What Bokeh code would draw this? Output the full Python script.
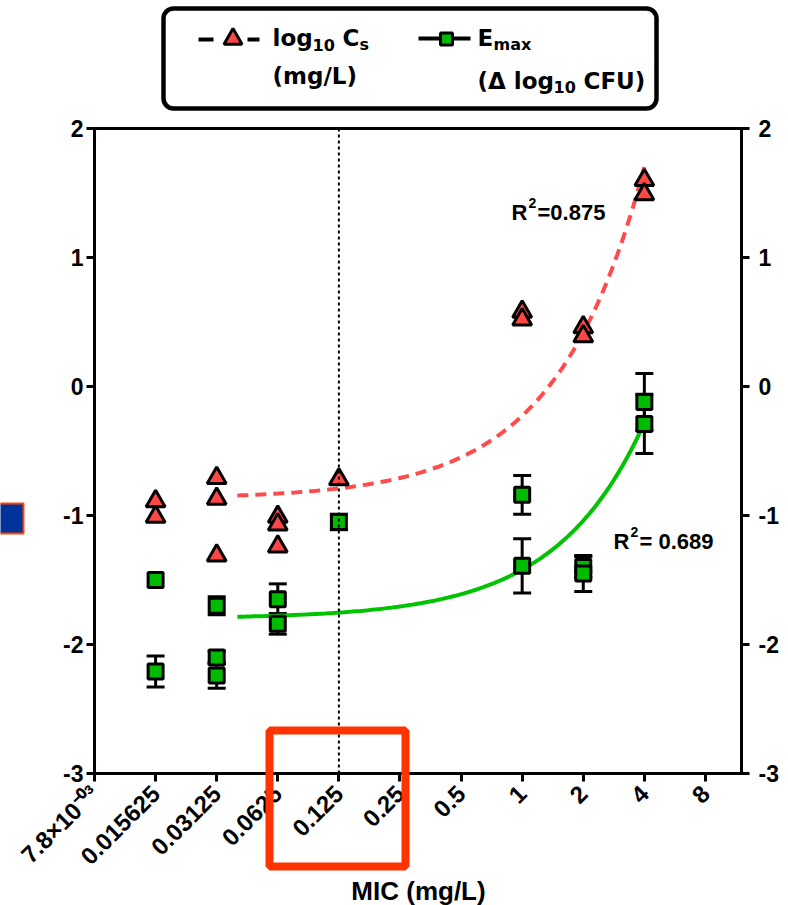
import math
import numpy as np
from bokeh.plotting import figure
from bokeh.models import (Range1d, FixedTicker, LinearAxis, Span, Whisker, TeeHead,
                          ColumnDataSource, Label, BoxAnnotation, GridBox)
from bokeh.embed import file_html
from bokeh.resources import INLINE

# ---------------- data ----------------
MIC_TICKS = [0.0078125, 0.015625, 0.03125, 0.0625, 0.125, 0.25, 0.5, 1, 2, 4, 8]
MIC_TICK_LABELS = ["7.8×10⁻⁰³", "0.015625", "0.03125", "0.0625", "0.125", "0.25",
                   "0.5", "1", "2", "4", "8"]
X_TITLE = "MIC (mg/L)"
Y_TICKS = [-3, -2, -1, 0, 1, 2]
Y_TICK_LABELS = ["-3", "-2", "-1", "0", "1", "2"]

# log10 Cs (mg/L) vs MIC
CS_MIC = [0.015625, 0.015625, 0.03125, 0.03125, 0.03125, 0.0625, 0.0625, 0.0625,
          0.125, 1, 1, 2, 2, 4, 4]
CS_LOG = [-0.89, -1.01, -0.71, -0.87, -1.31, -1.01, -1.07, -1.24,
          -0.72, 0.58, 0.52, 0.46, 0.39, 1.60, 1.49]

# Emax (delta log10 CFU) vs MIC, with error (SD)
E_MIC = [0.015625, 0.015625, 0.03125, 0.03125, 0.03125, 0.0625, 0.0625,
         0.125, 1, 1, 2, 2, 4, 4]
E_MAX = [-1.50, -2.21, -1.70, -2.10, -2.24, -1.65, -1.84,
         -1.05, -0.84, -1.39, -1.40, -1.45, -0.12, -0.29]
E_SD = [0.0, 0.12, 0.07, 0.05, 0.10, 0.12, 0.08,
        0.06, 0.15, 0.21, 0.08, 0.14, 0.22, 0.23]

# fitted lines  y = intercept + slope * MIC
CS_FIT_COEF = [-0.870, 0.643]
E_FIT_COEF = [-1.800, 0.380]
FIT_MIC_SPAN = [0.0395, 4.0]
CS_R2 = "0.875"
E_R2 = "0.689"

MIC_CUTOFF = 0.125

FONT = "Liberation Sans"
LFONT = "DejaVu Sans"
RED = "#FF4747"
RED_LINE = "#FF4B4B"
GREEN = "#00BB00"
GREEN_LINE = "#00C400"

W, H = 788, 905

# ---------------- main figure ----------------
p = figure(width=W, height=H, x_axis_type="log",
           x_range=Range1d(2 ** -7, 2 ** 3.59), y_range=Range1d(-3, 2),
           output_backend="svg", toolbar_location=None, frame_align=False,
           min_border_left=94, min_border_right=47, min_border_top=128,
           min_border_bottom=132)
p.grid.visible = False
p.outline_line_color = "black"
p.outline_line_width = 3
p.background_fill_color = "white"
p.border_fill_color = "white"

right_axis = LinearAxis()
p.add_layout(right_axis, "right")

for ax, standoff in [(p.yaxis[0], 3), (right_axis, 9)]:
    ax.ticker = FixedTicker(ticks=Y_TICKS, minor_ticks=[])
    ax.major_label_overrides = dict(zip(Y_TICKS, Y_TICK_LABELS))
    ax.major_label_text_font = FONT
    ax.major_label_text_font_style = "bold"
    ax.major_label_text_font_size = "23px"
    ax.major_label_text_color = "black"
    ax.major_label_standoff = standoff

for ax in [p.yaxis[0], right_axis, p.xaxis[0]]:
    ax.axis_line_width = 3
    ax.axis_line_color = "black"
    ax.major_tick_line_width = 3
    ax.major_tick_line_color = "black"
    ax.major_tick_out = 8
    ax.major_tick_in = 0
    ax.minor_tick_line_color = None

xa = p.xaxis[0]
xa.ticker = FixedTicker(ticks=MIC_TICKS, minor_ticks=[])
xa.major_label_overrides = dict(zip(MIC_TICKS, MIC_TICK_LABELS))
xa.major_label_orientation = math.pi / 4
xa.major_label_text_font = FONT
xa.major_label_text_font_style = "bold"
xa.major_label_text_font_size = "24px"
xa.major_label_text_color = "black"
xa.major_label_standoff = 8

# MIC breakpoint
p.add_layout(Span(location=MIC_CUTOFF, dimension="height", line_color="black",
                  line_width=2, line_dash="3 3"))

# fitted curves
fit_x = np.geomspace(FIT_MIC_SPAN[0], FIT_MIC_SPAN[1], 150)
p.line(fit_x, CS_FIT_COEF[0] + CS_FIT_COEF[1] * fit_x, line_color=RED_LINE,
       line_width=4, line_dash="11 7")
p.line(fit_x, E_FIT_COEF[0] + E_FIT_COEF[1] * fit_x, line_color=GREEN_LINE,
       line_width=4)

# error bars
em = np.array(E_MIC)
ev = np.array(E_MAX)
es = np.array(E_SD)
mask = es > 0
err_src = ColumnDataSource(dict(x=em[mask], upper=(ev + es)[mask], lower=(ev - es)[mask]))
p.add_layout(Whisker(base="x", upper="upper", lower="lower", source=err_src,
                     dimension="height", line_width=3, line_color="black",
                     level="underlay",
                     upper_head=TeeHead(size=18, line_width=3, line_color="black"),
                     lower_head=TeeHead(size=18, line_width=3, line_color="black")))

# markers
p.scatter(E_MIC, E_MAX, marker="square", size=15, fill_color=GREEN,
          line_color="black", line_width=3)
p.scatter(CS_MIC, CS_LOG, marker="triangle", size=19, fill_color=RED,
          line_color="black", line_width=3)

# ---------------- overlay (titles, legend, R² notes, highlight marks) ----------------
o = figure(width=W, height=H, x_range=Range1d(0, W), y_range=Range1d(H, 0),
           output_backend="svg", toolbar_location=None, min_border=0,
           frame_align=False, x_axis_location=None, y_axis_location=None)
o.grid.visible = False
o.outline_line_color = None
o.background_fill_color = None
o.border_fill_color = None
o.background_fill_alpha = 0
o.border_fill_alpha = 0

SHIFT = 7  # baseline correction


def lab(text, px, py, size, font=FONT, align="left"):
    o.add_layout(Label(x=px, y=py - SHIFT, text=text, text_font=font,
                       text_font_style="bold", text_font_size=f"{size}px",
                       text_color="black", text_align=align,
                       text_baseline="alphabetic"))


# x axis title
lab(X_TITLE, 418, 897, 26, align="center")

# legend frame
o.add_layout(BoxAnnotation(left=163, right=656, top=8, bottom=108,
                           fill_color="white", fill_alpha=1.0, line_color="black",
                           line_width=4.5, line_alpha=1.0, border_radius=10,
                           level="underlay"))
# legend samples
o.segment(x0=[198, 247], y0=[39, 39], x1=[213, 259], y1=[39, 39],
          line_width=4, line_color="black")
o.scatter([232.5], [38.5], marker="triangle", size=18, fill_color=RED,
          line_color="black", line_width=3)
o.segment(x0=[418], y0=[38], x1=[470], y1=[38], line_width=4, line_color="black")
o.scatter([446], [38.5], marker="square", size=12, fill_color=GREEN,
          line_color="black", line_width=3)

# legend texts
lab("log", 272, 44, 23, LFONT)
lab("10", 312, 51, 16, LFONT)
lab("C", 342, 44, 23, LFONT)
lab("s", 359, 51, 16, LFONT)
lab("(mg/L)", 272, 82, 23, LFONT)

lab("E", 477, 44, 23, LFONT)
lab("max", 493, 51, 16, LFONT)
lab("(Δ log", 477, 87, 23, LFONT)
lab("10", 553, 93, 16, LFONT)
lab("CFU)", 583, 87, 23, LFONT)

# R² notes
lab("R", 511, 219, 22)
lab("2", 528, 209, 14)
lab("=" + CS_R2, 537, 219, 22)
lab("R", 613, 548, 22)
lab("2", 630, 538, 14)
lab("= " + E_R2, 639, 548, 22)

# red highlight rectangle around the 0.125 - 0.25 tick labels
o.add_layout(BoxAnnotation(left=269, right=405, top=730, bottom=866,
                           fill_alpha=0.0, line_color="#FF3300", line_width=8,
                           line_alpha=1.0))
# blue marker square at the left edge
o.add_layout(BoxAnnotation(left=-6, right=23, top=503, bottom=533,
                           fill_color="#003399", fill_alpha=1.0, line_color="#FF4400",
                           line_width=2, line_alpha=1.0))

page = GridBox(children=[(p, 0, 0), (o, 0, 0)])

open("out.html", "w").write(file_html(page, INLINE))
